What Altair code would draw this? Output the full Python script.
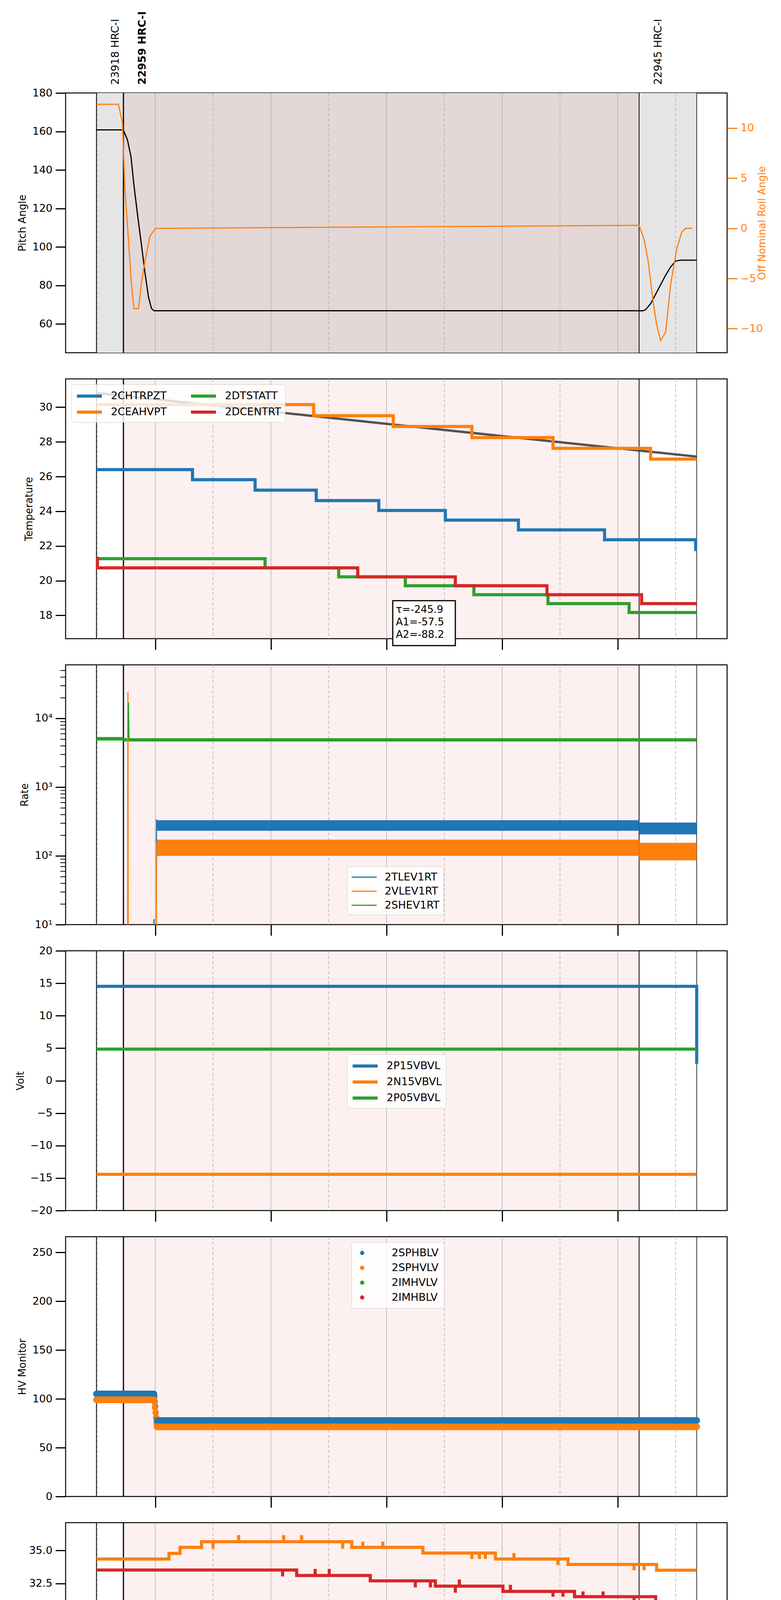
import altair as alt
import pandas as pd

BLUE, ORANGE, GREEN, RED = "#1f77b4", "#ff7f0e", "#2ca02c", "#d62728"
FONT = "DejaVu Sans"
W, H = 1694, 665

# time axis: decimal hours on 2021-07-11 (day 192)
x_domain = [6.45, 17.89]
major_hours = [8, 10, 12, 14, 16]
minor_hours = [7, 9, 11, 13, 15, 17]

# observations
obs_start = [6.983, 7.45, 16.368]
obs_end = [7.45, 16.368, 17.364]
obs_label = ["23918 HRC-I", "22959 HRC-I", "22945 HRC-I"]
obs_bold = [False, True, False]
edge_times = [6.983, 7.45, 16.368, 17.364]
edge_widths = [2, 3, 2, 1.5]

# panel 1: pitch / roll
pitch_t = [6.983, 7.433, 7.459, 7.519, 7.580, 7.632, 7.693, 7.762, 7.823, 7.883, 7.935, 7.978,
           16.368, 16.437, 16.48, 16.567, 16.654, 16.74, 16.827, 16.913, 17.0, 17.087, 17.364]
pitch_v = [160.8, 160.8, 160.0, 155.7, 147, 132, 117, 101, 86.5, 74, 68, 66.8,
           66.8, 66.8, 67.4, 70.5, 75.4, 80.4, 85.3, 89.6, 92.7, 93.1, 93.1]
roll_t = [6.983, 7.364, 7.433, 7.476, 7.545, 7.589, 7.632, 7.71, 7.762, 7.823, 7.909, 8.004,
          16.307, 16.368, 16.455, 16.524, 16.61, 16.671, 16.74, 16.827, 16.913, 17.017, 17.104, 17.173, 17.286]
roll_v = [12.37, 12.37, 10.5, 3.9, -1.8, -5.6, -8.0, -8.0, -5.4, -3.25, -0.77, 0.0,
          0.3, 0.3, -1.1, -3.25, -7.3, -9.6, -11.2, -10.35, -5.6, -2.1, -0.4, 0.0, 0.0]

# panel 2: temperatures (step breaks / levels)
chtrpzt_t = [6.983, 8.645, 9.727, 10.784, 11.866, 13.017, 14.281, 15.771, 17.346, 17.364]
chtrpzt_v = [26.4, 25.82, 25.22, 24.62, 24.05, 23.49, 22.93, 22.36, 21.8]
ceahvpt_t = [6.983, 10.740, 12.117, 13.476, 14.879, 16.567, 17.364]
ceahvpt_v = [30.15, 29.51, 28.89, 28.25, 27.63, 27.01]
dtstatt_t = [6.983, 9.900, 11.173, 12.325, 13.511, 14.792, 16.195, 17.364]
dtstatt_v = [21.27, 20.74, 20.22, 19.71, 19.19, 18.68, 18.17]
dcentrt_t = [6.983, 7.0, 11.502, 13.190, 14.775, 16.411, 17.364]
dcentrt_v = [21.3, 20.74, 20.22, 19.71, 19.19, 18.68]
fit_t = [6.983, 12.0, 17.364]
fit_v = [30.82, 29.04, 27.15]
fit_text = ["τ=-245.9", "A1=-57.5", "A2=-88.2"]
fit_text_v = [18.33, 17.6, 16.88]
fit_box = [12.108, 13.19, 18.85, 16.26]

# panel 3: rates (noise envelopes and spikes)
band_series = ["2SHEV1RT", "2SHEV1RT", "2TLEV1RT", "2TLEV1RT", "2VLEV1RT", "2VLEV1RT"]
band_t0 = [6.983, 7.45, 8.024, 16.368, 8.024, 16.368]
band_t1 = [7.45, 17.364, 16.368, 17.364, 16.368, 17.364]
band_lo = [4750, 4600, 232, 205, 100, 86]
band_hi = [5350, 5150, 330, 305, 172, 155]
tlev_spike_t = [[7.975, 7.978, 7.981], [8.016, 8.022, 8.030]]
tlev_spike_v = [[1, 12, 1], [1, 340, 280]]
vlev_spike_t = [[7.522, 7.528, 7.534], [8.016, 8.022, 8.030]]
vlev_spike_v = [[1, 24000, 1], [1, 60, 160]]
shev_spike_t = [[7.528, 7.537, 7.546]]
shev_spike_v = [[5200, 16900, 5000]]
log_minor = [20, 30, 40, 50, 60, 70, 80, 90, 200, 300, 400, 500, 600, 700, 800, 900,
             2000, 3000, 4000, 5000, 6000, 7000, 8000, 9000, 20000, 30000, 40000, 50000]

# panel 4: voltages
p15_t = [6.983, 17.364, 17.364]
p15_v = [14.53, 14.53, 2.6]
n15_t = [6.983, 17.364]
n15_v = [-14.42, -14.42]
p05_t = [6.983, 17.364]
p05_v = [4.85, 4.85]

# panel 5: HV monitor
sphblv_t = [[6.983, 7.978], [8.03, 17.364]]
sphblv_v = [[105, 105], [77.8, 77.8]]
sphblv_tr_t = [7.985, 7.993, 8.0, 8.008, 8.016]
sphblv_tr_v = [102, 97, 92, 86, 81]
sphvlv_t = [[6.983, 7.978], [8.03, 17.364]]
sphvlv_v = [[99, 99], [71.3, 71.3]]
sphvlv_tr_t = [7.987, 7.995, 8.004, 8.013, 8.022]
sphvlv_tr_v = [96.5, 91, 86, 81, 75]

# panel 6: detector temps
sphvatm_t = [6.983, 8.238, 8.429, 8.801, 11.398, 12.628, 13.883, 15.139, 16.671, 17.364]
sphvatm_v = [34.35, 34.77, 35.23, 35.66, 35.23, 34.8, 34.35, 33.94, 33.5]
sphvatm_spk = [(9.442, 35.66, 36.16), (10.221, 35.66, 36.16), (10.532, 35.66, 36.16), (9.0, 35.66, 35.13),
               (11.242, 35.66, 35.13), (11.589, 35.23, 35.66), (11.935, 35.23, 35.66), (13.476, 34.8, 34.35),
               (13.606, 34.8, 34.35), (13.71, 34.8, 34.35), (14.203, 34.35, 34.8), (14.965, 34.35, 33.9),
               (16.281, 33.94, 33.5), (16.455, 33.94, 33.5)]
imhvatm_t = [6.983, 10.446, 11.719, 12.844, 14.013, 15.251, 16.654, 17.364]
imhvatm_v = [33.52, 33.1, 32.7, 32.3, 31.9, 31.5, 31.1]
imhvatm_spk = [(10.203, 33.52, 33.03), (10.766, 33.1, 33.6), (11.009, 33.1, 33.6), (12.498, 32.7, 32.2),
               (12.758, 32.7, 32.2), (13.26, 32.3, 32.8), (13.19, 32.3, 31.8), (14.143, 31.9, 32.4),
               (14.879, 31.9, 31.5), (15.052, 31.9, 31.5), (15.398, 31.5, 31.9), (15.745, 31.5, 31.9),
               (16.281, 31.5, 31.1)]
iminatm_t = [6.983, 10.957, 12.974, 14.939, 17.234, 17.364]
iminatm_v = [21.0, 20.33, 19.64, 18.97, 18.32]
spinatm_t = [6.983, 7.632, 14.056, 16.697, 17.364]
spinatm_v = [20.33, 19.64, 18.97, 18.32]
spinatm_block = [8.948, 10.42, 19.64, 20.33]

# panel 7: FEA temps
fhtrmzt_t = [6.983, 8.299, 9.095, 9.874, 10.723, 11.589, 12.515, 13.52, 14.706, 16.022, 17.017, 17.13, 17.364]
fhtrmzt_v = [24.03, 23.47, 22.90, 22.36, 21.82, 21.26, 20.73, 20.20, 19.67, 19.16, 19.67, 19.16]
fradpyt_t = [6.983, 7.632, 7.97, 8.152, 8.446, 8.931, 9.571, 10.273, 11.026, 11.848, 12.74, 13.771,
             14.948, 16.333, 16.55, 16.706, 16.827, 17.069, 17.303, 17.364]
fradpyt_v = [19.16, 19.69, 19.16, 18.66, 18.15, 17.66, 17.16, 16.68, 16.20, 15.72, 15.23, 14.78,
             14.32, 13.86, 14.32, 14.78, 15.25, 14.78, 14.32]
fepratm_t = [6.983, 9.017, 10.264, 11.528, 12.931, 14.576, 16.593, 16.87, 17.364]
fepratm_v = [25.38, 24.62, 23.88, 23.14, 22.40, 21.68, 20.98, 21.68]
fe00atm_t = [6.983, 7.779, 8.022, 8.645, 9.251, 9.814, 10.42, 11.069, 11.701, 12.498, 13.104, 13.909,
             14.835, 15.745, 17.364]
fe00atm_v = [23.30, 23.65, 23.30, 22.97, 22.67, 22.35, 22.03, 21.72, 21.42, 21.09, 20.79, 20.49, 20.18, 19.88]
fe00atm_spk = [(8.255, 23.30, 21.98), (8.342, 23.30, 24.0), (8.429, 23.30, 23.5), (8.991, 22.97, 23.38),
               (9.061, 22.97, 22.6), (9.312, 22.67, 23.38), (9.589, 22.67, 21.02), (9.9, 22.35, 23.6),
               (10.1, 22.35, 21.95), (10.316, 22.35, 21.95), (10.481, 22.03, 21.65), (11.13, 21.72, 22.4),
               (11.225, 21.72, 22.7), (11.398, 21.72, 22.1), (12.264, 21.42, 20.73), (12.688, 21.09, 22.07),
               (13.035, 21.09, 22.07), (13.277, 20.79, 21.45), (13.684, 20.79, 18.95), (14.03, 20.49, 20.15),
               (14.203, 20.49, 21.45), (14.489, 20.49, 19.83), (14.688, 20.49, 18.95), (14.835, 20.18, 20.53),
               (15.156, 20.18, 19.52), (15.355, 20.18, 20.82), (15.615, 20.18, 19.83), (15.944, 19.88, 21.45),
               (15.978, 19.88, 19.52), (16.567, 19.88, 20.82), (16.575, 19.88, 19.52), (16.957, 19.88, 18.95),
               (17.061, 19.88, 20.53), (17.216, 19.88, 19.52), (17.364, 19.88, 20.2)]


def step_rows(name, breaks, levels):
    rows = []
    for i, v in enumerate(levels):
        rows.append({"series": name, "t": breaks[i], "v": v})
        rows.append({"series": name, "t": breaks[i + 1], "v": v})
    return rows


def seg_rows(name, seg_t, seg_v):
    rows = []
    for k, (ts, vs) in enumerate(zip(seg_t, seg_v)):
        for t, v in zip(ts, vs):
            rows.append({"series": name, "seg": f"{name}-{k}", "t": t, "v": v})
    return rows


def spike_rows(name, spikes):
    return [{"series": name, "t": t, "base": b, "tip": p} for t, b, p in spikes]


def frame(rows):
    df = pd.DataFrame(rows)
    df["i"] = range(len(df))
    return df


def xq(field, axis):
    return alt.X(field, type="quantitative", scale=alt.Scale(domain=x_domain, nice=False, zero=False), axis=axis)


def x_axis(ticks=True, bottom=False):
    if bottom:
        return alt.Axis(values=major_hours, labelExpr="(datum.value < 10 ? '0' : '') + datum.value + 'h'",
                        tickSize=28, labelFontSize=28, labelPadding=6, title="2021-07-11 (192)",
                        titleFontSize=30, titlePadding=8, grid=False, domain=False)
    return alt.Axis(values=major_hours, labels=False, ticks=ticks, tickSize=28, title=None, grid=False, domain=False)


def legend(x, y, cols=1, sw=8):
    # line handle drawn from the left edge of the symbol column, 4r long
    return alt.Legend(orient="none", legendX=x, legendY=y, title=None, columns=cols, symbolType="M-1,0H3",
                      symbolStrokeWidth=sw, symbolSize=1024, labelFontSize=27, labelFont=FONT,
                      fillColor="rgba(255,255,255,0.8)", strokeColor="#cccccc", cornerRadius=6,
                      padding=10, rowPadding=5, columnPadding=45, labelOffset=51)


def dot_legend(x, y):
    return alt.Legend(orient="none", legendX=x, legendY=y, title=None, symbolType="circle",
                      symbolStrokeWidth=0, symbolSize=120, labelFontSize=27, labelFont=FONT,
                      fillColor="rgba(255,255,255,0.8)", strokeColor="#cccccc", cornerRadius=6,
                      padding=14, rowPadding=10, labelOffset=62)


gray_df = pd.DataFrame({"t0": [obs_start[0]], "t1": [obs_end[-1]]})
pink_df = pd.DataFrame({"t0": [obs_start[1]], "t1": [obs_end[1]]})
major_df = pd.DataFrame({"h": major_hours})
minor_df = pd.DataFrame({"h": minor_hours})
edge_df = pd.DataFrame({"t": edge_times, "w": edge_widths})


def backdrop(axis, gray=False):
    layers = []
    if gray:
        layers.append(alt.Chart(gray_df).mark_rect(color="#e5e5e5").encode(x=xq("t0", axis), x2="t1"))
    layers += [
        alt.Chart(pink_df).mark_rect(color=RED, opacity=0.07).encode(x=xq("t0", axis), x2="t1"),
        alt.Chart(major_df).mark_rule(color="#b0b0b0", strokeWidth=1.5).encode(x=xq("h", axis)),
        alt.Chart(minor_df).mark_rule(color="#b0b0b0", strokeWidth=1.5, strokeDash=[8, 5]).encode(x=xq("h", axis)),
        alt.Chart(edge_df).mark_rule(color="black").encode(
            x=xq("t", axis), strokeWidth=alt.StrokeWidth("w:Q", scale=None, legend=None)),
    ]
    return layers


def step_panel(axis, names, colors, series, spikes, y_scale, y_axis, leg, extra_below=(), extra_above=()):
    df = frame(series)
    color = alt.Color("series:N", scale=alt.Scale(domain=names, range=colors), legend=leg)
    layers = backdrop(axis) + list(extra_below)
    if spikes:
        sdf = pd.DataFrame(spikes)
        layers.append(alt.Chart(sdf).mark_rule(strokeWidth=8).encode(
            x=xq("t", axis), y=alt.Y("base:Q", scale=y_scale, axis=y_axis), y2="tip:Q", color=color))
    layers.append(alt.Chart(df).mark_line(strokeWidth=8, strokeJoin="miter").encode(
        x=xq("t", axis), y=alt.Y("v:Q", scale=y_scale, axis=y_axis), color=color, order="i:Q"))
    layers += list(extra_above)
    return alt.layer(*layers).properties(width=W, height=H)


# ---------- panel 1 ----------
ax1 = x_axis(ticks=False)
pitch_df = pd.DataFrame({"t": pitch_t, "v": pitch_v})
roll_df = pd.DataFrame({"t": roll_t, "v": roll_v})
lab_df = pd.DataFrame({"t": obs_start, "label": obs_label, "bold": obs_bold})
pitch_line = alt.Chart(pitch_df).mark_line(color="black", strokeWidth=3).encode(
    x=xq("t", ax1),
    y=alt.Y("v:Q", scale=alt.Scale(domain=[45, 180], nice=False, zero=False),
            axis=alt.Axis(title="Pitch Angle", values=[60, 80, 100, 120, 140, 160, 180])))
roll_line = alt.Chart(roll_df).mark_line(color=ORANGE, strokeWidth=3).encode(
    x=xq("t", ax1),
    y=alt.Y("v:Q", scale=alt.Scale(domain=[-12.4, 13.5], nice=False, zero=False),
            axis=alt.Axis(title="Off Nominal Roll Angle", orient="right", values=[-10, -5, 0, 5, 10],
                          titleAngle=270, titleColor=ORANGE, labelColor=ORANGE, tickColor=ORANGE)))
lab_reg = alt.Chart(lab_df[~lab_df["bold"]]).mark_text(
    angle=270, align="left", baseline="alphabetic", dy=57, fontSize=27, font=FONT).encode(
    x=xq("t", ax1), y=alt.value(-21), text="label:N")
lab_bold = alt.Chart(lab_df[lab_df["bold"]]).mark_text(
    angle=270, align="left", baseline="alphabetic", dy=57, fontSize=27, font=FONT, fontWeight="bold").encode(
    x=xq("t", ax1), y=alt.value(-21), text="label:N")
p1 = alt.layer(*backdrop(ax1, gray=True), pitch_line, roll_line, lab_reg, lab_bold).resolve_scale(
    y="independent").properties(width=W, height=H)

# ---------- panel 2 ----------
ax = x_axis()
t_scale = alt.Scale(domain=[16.66, 31.63], nice=False, zero=False)
t_axis = alt.Axis(title="Temperature", values=[18, 20, 22, 24, 26, 28, 30])
fit_df = pd.DataFrame({"t": fit_t, "v": fit_v})
fit_line = alt.Chart(fit_df).mark_line(color="#404040", opacity=0.9, strokeWidth=6).encode(
    x=xq("t", ax), y=alt.Y("v:Q", scale=t_scale, axis=t_axis))
box_df = pd.DataFrame({"t0": [fit_box[0]], "t1": [fit_box[1]], "y0": [fit_box[2]], "y1": [fit_box[3]]})
box = alt.Chart(box_df).mark_rect(fill="white", stroke="black", strokeWidth=3).encode(
    x=xq("t0", ax), x2="t1", y=alt.Y("y0:Q", scale=t_scale, axis=t_axis), y2="y1")
txt_df = pd.DataFrame({"t": [fit_box[0]] * 3, "v": fit_text_v, "label": fit_text})
txt = alt.Chart(txt_df).mark_text(align="left", baseline="middle", dx=8, fontSize=26, font=FONT).encode(
    x=xq("t", ax), y=alt.Y("v:Q", scale=t_scale, axis=t_axis), text="label:N")
temp_rows = (step_rows("2CHTRPZT", chtrpzt_t, chtrpzt_v) + step_rows("2CEAHVPT", ceahvpt_t, ceahvpt_v)
             + step_rows("2DTSTATT", dtstatt_t, dtstatt_v) + step_rows("2DCENTRT", dcentrt_t, dcentrt_v))
p2 = step_panel(ax, ["2CHTRPZT", "2CEAHVPT", "2DTSTATT", "2DCENTRT"], [BLUE, ORANGE, GREEN, RED],
                temp_rows, None, t_scale, t_axis, legend(15, 14, cols=2),
                extra_below=[fit_line], extra_above=[box, txt])

# ---------- panel 3 ----------
r_scale = alt.Scale(type="log", domain=[10, 60000], nice=False)
r_axis = alt.Axis(title="Rate", values=[10, 100, 1000, 10000],
                  labelExpr="datum.value == 10 ? '10¹' : datum.value == 100 ? '10²' : datum.value == 1000 ? '10³' : '10⁴'")
rate_names = ["2TLEV1RT", "2VLEV1RT", "2SHEV1RT"]
rate_colors = [BLUE, ORANGE, GREEN]
rate_color = alt.Color("series:N", scale=alt.Scale(domain=rate_names, range=rate_colors),
                       legend=legend(721, 516, sw=3))
band_df = pd.DataFrame({"series": band_series, "t0": band_t0, "t1": band_t1, "lo": band_lo, "hi": band_hi})
bands = alt.Chart(band_df).mark_rect().encode(
    x=xq("t0", ax), x2="t1", y=alt.Y("lo:Q", scale=r_scale, axis=r_axis), y2="hi", color=rate_color)
trace_df = frame(seg_rows("2TLEV1RT", tlev_spike_t, tlev_spike_v) + seg_rows("2VLEV1RT", vlev_spike_t, vlev_spike_v)
                 + seg_rows("2SHEV1RT", shev_spike_t, shev_spike_v))
traces = alt.Chart(trace_df).mark_line(strokeWidth=3, clip=True).encode(
    x=xq("t", ax), y=alt.Y("v:Q", scale=r_scale, axis=r_axis), detail="seg:N", order="i:Q", color=rate_color)
# minor log ticks as a second left axis on the same scale
log_minor_df = pd.DataFrame({"m": log_minor})
log_ticks = alt.Chart(log_minor_df).mark_tick(opacity=0).encode(
    y=alt.Y("m:Q", scale=r_scale,
            axis=alt.Axis(orient="left", values=log_minor, labels=False, title=None, tickSize=14,
                          tickWidth=2, grid=False, domain=False)))
p3 = alt.layer(alt.layer(*backdrop(ax), bands, traces), log_ticks).resolve_axis(
    y="independent").properties(width=W, height=H)

# ---------- panel 4 ----------
v_scale = alt.Scale(domain=[-20, 20], nice=False, zero=False)
v_axis = alt.Axis(title="Volt", values=[-20, -15, -10, -5, 0, 5, 10, 15, 20])
volt_rows = (seg_rows("2P15VBVL", [p15_t], [p15_v]) + seg_rows("2N15VBVL", [n15_t], [n15_v])
             + seg_rows("2P05VBVL", [p05_t], [p05_v]))
volt_df = frame(volt_rows)
volts = alt.Chart(volt_df).mark_line(strokeWidth=8).encode(
    x=xq("t", ax), y=alt.Y("v:Q", scale=v_scale, axis=v_axis), detail="seg:N", order="i:Q",
    color=alt.Color("series:N", scale=alt.Scale(domain=["2P15VBVL", "2N15VBVL", "2P05VBVL"],
                                                 range=[BLUE, ORANGE, GREEN]), legend=legend(721, 265)))
p4 = alt.layer(*backdrop(ax), volts).properties(width=W, height=H)

# ---------- panel 5 ----------
hv_scale = alt.Scale(domain=[0, 266], nice=False, zero=False)
hv_axis = alt.Axis(title="HV Monitor", values=[0, 50, 100, 150, 200, 250])
hv_names = ["2SPHBLV", "2SPHVLV", "2IMHVLV", "2IMHBLV"]
hv_colors = [BLUE, ORANGE, GREEN, RED]
hv_color = alt.Color("series:N", scale=alt.Scale(domain=hv_names, range=hv_colors), legend=dot_legend(732, 14))
hv_line_df = frame(seg_rows("2SPHBLV", sphblv_t, sphblv_v) + seg_rows("2SPHVLV", sphvlv_t, sphvlv_v))
hv_pt_df = pd.DataFrame({"series": ["2SPHBLV"] * len(sphblv_tr_t) + ["2SPHVLV"] * len(sphvlv_tr_t),
                         "t": sphblv_tr_t + sphvlv_tr_t, "v": sphblv_tr_v + sphvlv_tr_v})
hv_pts = alt.Chart(hv_pt_df).mark_circle(size=250, opacity=1).encode(
    x=xq("t", ax), y=alt.Y("v:Q", scale=hv_scale, axis=hv_axis), color=hv_color)
hv_lines = alt.Chart(hv_line_df).mark_line(strokeWidth=17, strokeCap="round").encode(
    x=xq("t", ax), y=alt.Y("v:Q", scale=hv_scale, axis=hv_axis), detail="seg:N", order="i:Q", color=hv_color)
p5 = alt.layer(*backdrop(ax), hv_pts, hv_lines).properties(width=W, height=H)

# ---------- panel 6 ----------
d_scale = alt.Scale(domain=[17.45, 37.1], nice=False, zero=False)
d_axis = alt.Axis(title="Detector Temp", values=[17.5, 20, 22.5, 25, 27.5, 30, 32.5, 35], format=".1f")
det_names = ["2SPINATM", "2SPHVATM", "2IMINATM", "2IMHVATM"]
det_colors = [BLUE, ORANGE, GREEN, RED]
det_leg = legend(721, 245)
block_df = pd.DataFrame({"series": ["2SPINATM"], "t0": [spinatm_block[0]], "t1": [spinatm_block[1]],
                         "lo": [spinatm_block[2]], "hi": [spinatm_block[3]]})
block = alt.Chart(block_df).mark_rect().encode(
    x=xq("t0", ax), x2="t1", y=alt.Y("lo:Q", scale=d_scale, axis=d_axis), y2="hi",
    color=alt.Color("series:N", scale=alt.Scale(domain=det_names, range=det_colors), legend=det_leg))
det_rows = (step_rows("2SPINATM", spinatm_t, spinatm_v) + step_rows("2SPHVATM", sphvatm_t, sphvatm_v)
            + step_rows("2IMINATM", iminatm_t, iminatm_v) + step_rows("2IMHVATM", imhvatm_t, imhvatm_v))
det_spk = spike_rows("2SPHVATM", sphvatm_spk) + spike_rows("2IMHVATM", imhvatm_spk)
p6 = step_panel(ax, det_names, det_colors, det_rows, det_spk, d_scale, d_axis, det_leg,
                extra_below=[block])

# ---------- panel 7 ----------
ax7 = x_axis(bottom=True)
f_scale = alt.Scale(domain=[13.28, 26.13], nice=False, zero=False)
f_axis = alt.Axis(title="FEA Temp", values=[14, 16, 18, 20, 22, 24, 26])
fea_names = ["2FHTRMZT", "2FRADPYT", "2FEPRATM", "2FE00ATM"]
fea_colors = [BLUE, ORANGE, GREEN, RED]
fea_rows = (step_rows("2FHTRMZT", fhtrmzt_t, fhtrmzt_v) + step_rows("2FRADPYT", fradpyt_t, fradpyt_v)
            + step_rows("2FEPRATM", fepratm_t, fepratm_v) + step_rows("2FE00ATM", fe00atm_t, fe00atm_v))
minor_lab_df = pd.DataFrame({"h": minor_hours, "label": [f"{h:02d}h" for h in minor_hours]})
minor_labels = alt.Chart(minor_lab_df).mark_text(baseline="top", align="center", fontSize=18, font=FONT).encode(
    x=xq("h", ax7), y=alt.value(H + 10), text="label:N")
p7 = step_panel(ax7, fea_names, fea_colors, fea_rows, spike_rows("2FE00ATM", fe00atm_spk), f_scale, f_axis,
                legend(1420, 15), extra_above=[minor_labels])

chart = alt.vconcat(p1, p2, p3, p4, p5, p6, p7, spacing=67, bounds="flush").resolve_scale(
    color="independent"
).resolve_legend(
    color="independent"
).properties(
    padding={"left": 26, "top": 19, "right": 5, "bottom": 5}
).configure_view(
    stroke="black", strokeWidth=2.5
).configure_axis(
    labelFont=FONT, titleFont=FONT, labelFontSize=27, titleFontSize=26, titleFontWeight="normal",
    labelColor="black", titleColor="black", tickColor="black", tickWidth=3, tickSize=26,
    domain=False, grid=False, labelPadding=8, titlePadding=12
).configure_legend(
    labelFont=FONT, labelFontSize=27, labelColor="black"
)

chart.save("out.html", embed_options={"renderer": "svg", "actions": False})
